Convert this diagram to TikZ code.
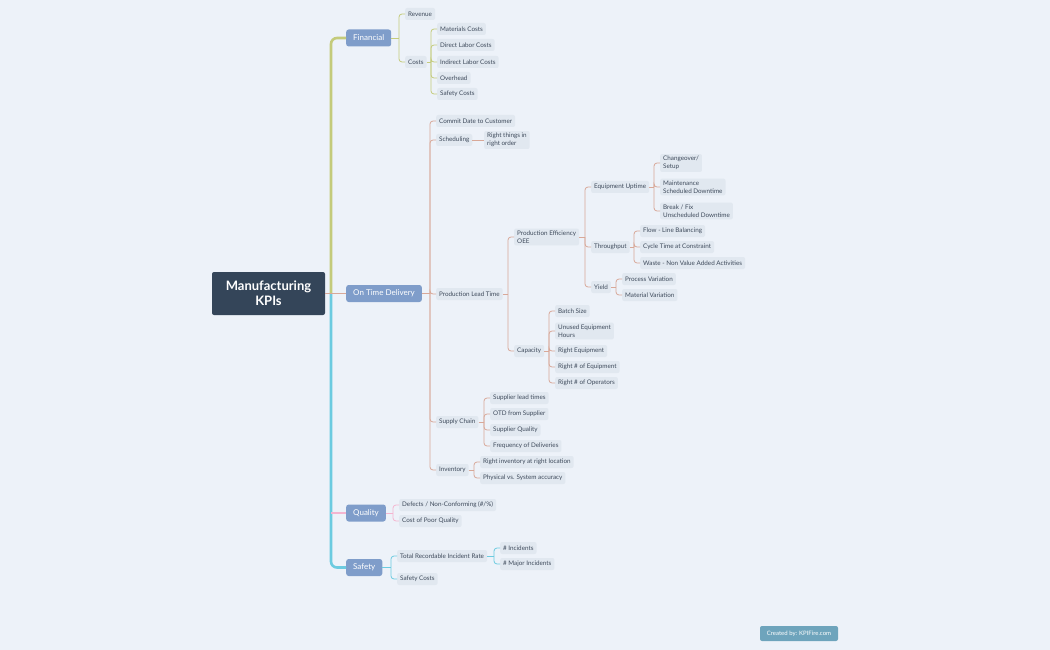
\documentclass[tikz,border=0pt]{standalone}
\usepackage{fontspec}
\setmainfont{Lato}
\usepackage{xcolor}
\usetikzlibrary{positioning,calc}

\definecolor{bgblue}{HTML}{EDF2F9}
\definecolor{rootnavy}{HTML}{344559}
\definecolor{topicblue}{HTML}{7F9DCA}
\definecolor{subgray}{HTML}{E1E8F0}
\definecolor{subtext}{HTML}{3E4A5B}
\definecolor{finolive}{HTML}{C4CB7B}
\definecolor{otdsalmon}{HTML}{D8A898}
\definecolor{qualpink}{HTML}{F4B5D0}
\definecolor{safecyan}{HTML}{6CCBE0}
\definecolor{markblue}{HTML}{6EA4BC}

\tikzset{
  rootbox/.style={fill=rootnavy, text=white, rounded corners=2pt, minimum width=113pt, minimum height=43pt,
    align=center, font=\fontsize{13}{15}\selectfont\bfseries},
  topic/.style={fill=topicblue, text=white, rounded corners=2.5pt, minimum height=17pt, inner xsep=7pt,
    anchor=west, font=\fontsize{8}{9.5}\selectfont},
  sub/.style={fill=subgray, text=subtext, rounded corners=2pt, inner xsep=3pt, inner ysep=2.3pt,
    minimum height=12pt, anchor=west, align=left, font=\fontsize{6.3}{7.6}\selectfont},
  trunk/.style={line width=2.6pt, rounded corners=6pt},
  twig/.style={line width=0.8pt, rounded corners=3pt},
  finline/.style={twig, draw=finolive},
  otdline/.style={twig, draw=otdsalmon},
  qualline/.style={twig, draw=qualpink},
  safeline/.style={twig, draw=safecyan}
}

\begin{document}
\begin{tikzpicture}[x=1pt, y=-1pt]
\fill[bgblue] (0,0) rectangle (1050,650);
\useasboundingbox (0,0) rectangle (1050,650);

% central topic and main branches
\node[rootbox] (root) at (268.5,293.5) {Manufacturing\\KPIs};
\node[topic] (fin) at (346,38) {Financial};
\node[topic] (otd) at (346,293.5) {On Time Delivery};
\node[topic] (qual) at (346,513) {Quality};
\node[topic] (safe) at (346,567.5) {Safety};

\coordinate (hub) at (331,293.5);
\draw[trunk, draw=finolive] (hub) |- (fin.west);
\draw[trunk, draw=safecyan] (hub) |- (safe.west);
\draw[line width=1.8pt, draw=qualpink] (hub |- qual.west) -- (qual.west);
\draw[line width=1pt, draw=otdsalmon] (root.east) -- (otd.west);

% Financial
\node[sub] (rev) at (405,14) {Revenue};
\node[sub] (costs) at (405,62) {Costs};
\node[sub] (matc) at (437,29) {Materials Costs};
\node[sub] (dlab) at (437,45) {Direct Labor Costs};
\node[sub] (ilab) at (437,62) {Indirect Labor Costs};
\node[sub] (ovh) at (437,78) {Overhead};
\node[sub] (safc) at (437,94) {Safety Costs};

\coordinate (finj) at (399,38);
\coordinate (costsj) at (431,62);
\draw[finline] (fin.east) -- (finj);
\foreach \c in {rev,costs} \draw[finline] (finj) |- (\c.west);
\draw[finline] (costs.east) -- (costsj);
\foreach \c in {matc,dlab,ilab,ovh,safc} \draw[finline] (costsj) |- (\c.west);

% On Time Delivery
\node[sub] (commit) at (436,121) {Commit Date to Customer};
\node[sub] (sched) at (436,140) {Scheduling};
\node[sub] (rightord) at (484,140) {Right things in\\right order};
\node[sub] (plt) at (436,294) {Production Lead Time};
\node[sub] (supply) at (436,422) {Supply Chain};
\node[sub] (inv) at (436,470) {Inventory};

\node[sub] (oee) at (514,237) {Production Efficiency\\OEE};
\node[sub] (cap) at (514,351) {Capacity};

\node[sub] (equp) at (591,187) {Equipment Uptime};
\node[sub] (thru) at (591,247) {Throughput};
\node[sub] (yield) at (591,287) {Yield};

\node[sub] (chg) at (660,163) {Changeover/\\Setup};
\node[sub] (maint) at (660,187) {Maintenance\\Scheduled Downtime};
\node[sub] (brk) at (660,211) {Break / Fix\\Unscheduled Downtime};

\node[sub] (flow) at (640,231) {Flow - Line Balancing};
\node[sub] (cyc) at (640,247) {Cycle Time at Constraint};
\node[sub] (waste) at (640,263) {Waste - Non Value Added Activities};

\node[sub] (procv) at (622,279) {Process Variation};
\node[sub] (matv) at (622,295) {Material Variation};

\node[sub] (batch) at (555,311) {Batch Size};
\node[sub] (unused) at (555,331) {Unused Equipment\\Hours};
\node[sub] (righteq) at (555,351) {Right Equipment};
\node[sub] (numeq) at (555,367) {Right \# of Equipment};
\node[sub] (numops) at (555,383) {Right \# of Operators};

\node[sub] (suplt) at (490,398) {Supplier lead times};
\node[sub] (supotd) at (490,414) {OTD from Supplier};
\node[sub] (supq) at (490,430) {Supplier Quality};
\node[sub] (freq) at (490,446) {Frequency of Deliveries};

\node[sub] (rinv) at (480,462) {Right inventory at right location};
\node[sub] (phys) at (480,478) {Physical vs. System accuracy};

\coordinate (otdj) at (430,293.5);
\coordinate (pltj) at (508,294);
\coordinate (oeej) at (585,237);
\coordinate (equpj) at (654,187);
\coordinate (thruj) at (634,247);
\coordinate (yieldj) at (616,287);
\coordinate (capj) at (549,351);
\coordinate (supplyj) at (484,422);
\coordinate (invj) at (474,470);

\draw[otdline] (otd.east) -- (otdj);
\foreach \c in {commit,sched,plt,supply,inv} \draw[otdline] (otdj) |- (\c.west);
\draw[otdline] (sched.east) -- (rightord.west);
\draw[otdline] (plt.east) -- (pltj);
\foreach \c in {oee,cap} \draw[otdline] (pltj) |- (\c.west);
\draw[otdline] (oee.east) -- (oeej);
\foreach \c in {equp,thru,yield} \draw[otdline] (oeej) |- (\c.west);
\draw[otdline] (equp.east) -- (equpj);
\foreach \c in {chg,maint,brk} \draw[otdline] (equpj) |- (\c.west);
\draw[otdline] (thru.east) -- (thruj);
\foreach \c in {flow,cyc,waste} \draw[otdline] (thruj) |- (\c.west);
\draw[otdline] (yield.east) -- (yieldj);
\foreach \c in {procv,matv} \draw[otdline] (yieldj) |- (\c.west);
\draw[otdline] (cap.east) -- (capj);
\foreach \c in {batch,unused,righteq,numeq,numops} \draw[otdline] (capj) |- (\c.west);
\draw[otdline] (supply.east) -- (supplyj);
\foreach \c in {suplt,supotd,supq,freq} \draw[otdline] (supplyj) |- (\c.west);
\draw[otdline] (inv.east) -- (invj);
\foreach \c in {rinv,phys} \draw[otdline] (invj) |- (\c.west);

% Quality
\node[sub] (defects) at (399,505) {Defects / Non-Conforming (\#/\%)};
\node[sub] (copq) at (399,521) {Cost of Poor Quality};
\coordinate (qualj) at (393,513);
\draw[qualline] (qual.east) -- (qualj);
\foreach \c in {defects,copq} \draw[qualline] (qualj) |- (\c.west);

% Safety
\node[sub] (trir) at (397,556) {Total Recordable Incident Rate};
\node[sub] (safcost) at (397,579) {Safety Costs};
\node[sub] (inc) at (500,548) {\# Incidents};
\node[sub] (minc) at (500,564) {\# Major Incidents};
\coordinate (safej) at (391,567.5);
\coordinate (trirj) at (494,556);
\draw[safeline] (safe.east) -- (safej);
\foreach \c in {trir,safcost} \draw[safeline] (safej) |- (\c.west);
\draw[safeline] (trir.east) -- (trirj);
\foreach \c in {inc,minc} \draw[safeline] (trirj) |- (\c.west);

% watermark
\node[fill=markblue, text=white, rounded corners=2pt, minimum width=78pt, minimum height=15pt,
  font=\fontsize{6}{7}\selectfont] (credit) at (799,633.5) {Created by: KPIFire.com};
\end{tikzpicture}
\end{document}
